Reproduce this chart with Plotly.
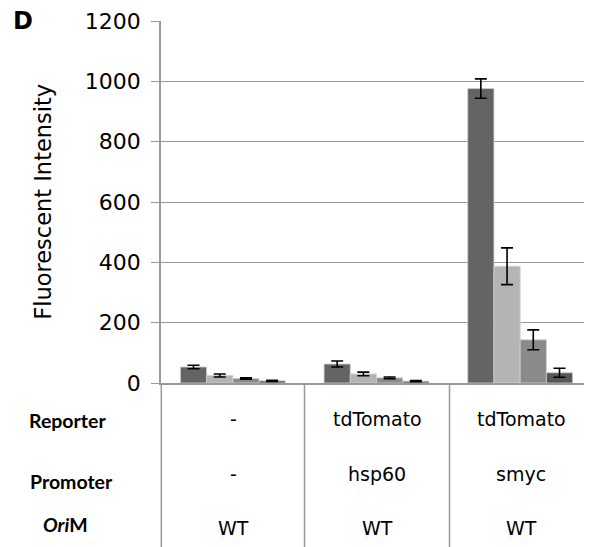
import plotly.graph_objects as go

categories = ["c1", "c2", "c3"]
reporter = ["-", "tdTomato", "tdTomato"]
promoter = ["-", "hsp60", "smyc"]
orim = ["WT", "WT", "WT"]

s1 = [53, 63, 976]
s1_err = [6, 10, 32]
s2 = [25, 30, 387]
s2_err = [5, 6, 61]
s3 = [15, 17, 143]
s3_err = [2, 3, 33]
s4 = [7, 6, 34]
s4_err = [2, 2, 15]

y_ticks = [0, 200, 400, 600, 800, 1000, 1200]

series = [(s1, s1_err, "#646464"), (s2, s2_err, "#b4b4b4"),
          (s3, s3_err, "#8a8a8a"), (s4, s4_err, "#575757")]

fig = go.Figure()
for vals, errs, col in series:
    fig.add_trace(go.Bar(
        x=categories, y=vals, marker=dict(color=col, line=dict(color="#d0d0d0", width=0.8)),
        error_y=dict(type="data", array=errs, visible=True, color="black", thickness=1.6, width=6),
        showlegend=False))

OFF = 8  # page body margin
W, H = 592 - OFF, 547 - OFF
# page coords of plot area: left 161, top 21, bottom 383.5, right 592
L = 161 - OFF
T = 21 - OFF
B = H - (383.5 - OFF)
R = 0

fig.update_layout(
    width=W, height=H, autosize=False,
    margin=dict(l=L, r=R, t=T, b=B, pad=0),
    paper_bgcolor="white", plot_bgcolor="white",
    barmode="group", bargap=0.27, bargroupgap=0,
    font=dict(family="DejaVu Sans", color="black"),
)
fig.update_xaxes(range=[-0.5, 2.5], showticklabels=False, showgrid=False,
                 showline=True, linecolor="#999999", linewidth=1.5, ticks="", zeroline=False)
fig.update_yaxes(range=[0, 1200], tickvals=y_ticks, ticktext=[str(v) for v in y_ticks],
                 showgrid=True, gridcolor="#999999", gridwidth=1.3,
                 showline=True, linecolor="#999999", linewidth=1.5,
                 ticks="outside", ticklen=8, tickcolor="#999999", tickwidth=1.3,
                 tickfont=dict(family="DejaVu Sans", size=22, color="black"),
                 ticklabelstandoff=6, zeroline=False)

plot_h = H - T - B
plot_w = W - L - R

def py(pix):
    return (H - B - (pix - OFF)) / plot_h

def px(pix):
    return ((pix - OFF) - L) / plot_w

# separators below axis
for xp in [161.3, 304.5, 449.5]:
    fig.add_shape(type="line", xref="paper", yref="paper", x0=px(xp), x1=px(xp),
                  y0=py(384), y1=py(548), line=dict(color="#999999", width=1.5))

ann = []
ann.append(dict(text="<b>D</b>", x=22.5, y=21, size=24, fam="DejaVu Sans"))
ann.append(dict(text="<b>Reporter</b>", x=67, y=421, size=19.5, fam="Lato"))
ann.append(dict(text="<b>Promoter</b>", x=71, y=482, size=19.5, fam="Lato"))
ann.append(dict(text="<b><i>Ori</i>M</b>", x=65, y=525.5, size=19.5, fam="Lato"))
centers = [233, 377, 521]
rows = [(reporter, 420), (promoter, 475), (orim, 529)]
for labels, yy in rows:
    for c, lab in zip(centers, labels):
        ann.append(dict(text=lab, x=c, y=yy, size=19, fam="DejaVu Sans"))

for a in ann:
    fig.add_annotation(text=a["text"], xref="paper", yref="paper",
                       x=px(a["x"]), y=py(a["y"]), xanchor="center", yanchor="middle",
                       showarrow=False, font=dict(family=a["fam"], size=a["size"], color="black"))

fig.add_annotation(text="Fluorescent Intensity", xref="paper", yref="paper",
                   x=px(43), y=py(202), xanchor="center", yanchor="middle", textangle=-90,
                   showarrow=False, font=dict(family="DejaVu Sans", size=22.5, color="black"))

fig.write_html("out.html")
